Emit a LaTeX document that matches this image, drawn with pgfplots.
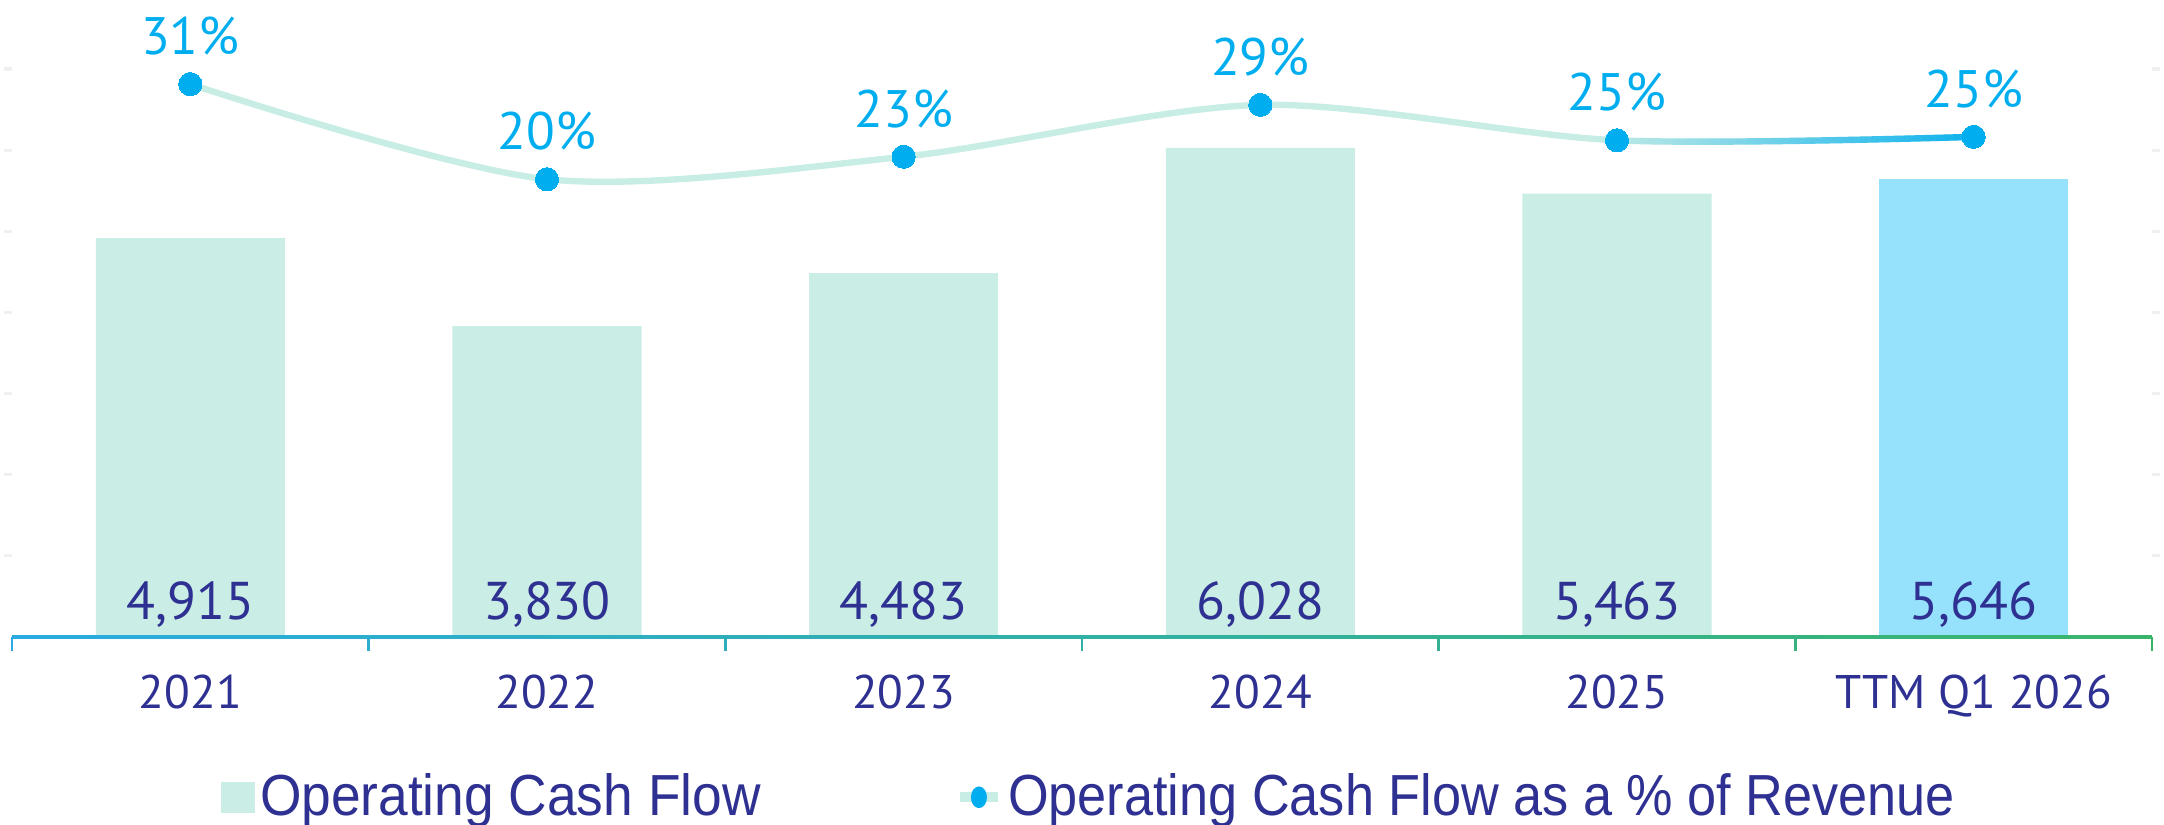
\documentclass[border=0pt]{standalone}
\usepackage{fontspec}
\setmainfont{PT Sans}
\newfontfamily\legfont[FakeStretch=0.92]{Liberation Sans}
\newfontfamily\legfontb[FakeStretch=0.902]{Liberation Sans}
\usepackage{pgfplots}
\usepackage{pgfplotstable}
\pgfplotsset{compat=1.18}
\usetikzlibrary{fadings}

\definecolor{navy}{RGB}{46,49,146}
\definecolor{pctcyan}{RGB}{0,174,239}
\definecolor{barmint}{RGB}{202,238,230}
\definecolor{barsky}{RGB}{150,226,252}
\definecolor{linemint}{RGB}{200,237,229}
\definecolor{axcyan}{RGB}{41,171,226}
\definecolor{axgreen}{RGB}{57,181,106}

\pgfplotstableread{
x ocf pct
0 4915 31.4
1 3830 20.4
2 4483 23.0
3 6028 29.0
4 5463 24.9
5 5646 25.3
}\ocfdata

\pgfplotsset{
  base/.style={
    scale only axis, width=535.5pt, height=159.4pt,
    xmin=-0.5, xmax=5.5, clip=false,
    axis line style={draw=none},
    /pgf/number format/assume math mode=true,
  }
}

\begin{document}%
% last segment of the ratio line turns cyan (fit fading maps -1..1 to the path box)
\begin{tikzfadingfrompicture}[name=lastseg]%
  \fill[transparent!100] (-1,-1) rectangle (0.6,1);
  \shade[left color=transparent!100,right color=transparent!0] (0.6,-1) rectangle (1,1);
  \fill[transparent!0] (1,-1) rectangle (1.2,1);
\end{tikzfadingfrompicture}%
\begin{tikzpicture}
\path[use as bounding box] (-3pt,-46.85pt) rectangle (538.5pt,159.4pt);

\begin{axis}[base, ymin=0, ymax=7850,
  xtick={0,...,5}, xticklabels={2021,2022,2023,2024,2025,TTM Q1 2026},
  x tick style={draw=none},
  xticklabel style={font=\fontsize{11.8}{14}\selectfont, text=navy, anchor=base, yshift=-15.9pt},
  ytick={1000,2000,...,7000}, yticklabels={},
  yticklabel style={inner sep=0pt},
  y tick style={draw=black!6, line width=0.8pt},
  tick align=outside, major tick length=2pt,
  legend columns=2,
  legend style={at={(0.0976,-0.2516)}, anchor=west, draw=none, fill=none,
    inner sep=0pt, outer sep=0pt, text=navy,
    nodes={inner xsep=0pt},
    font=\legfont\fontsize{14.5}{16}\selectfont,
    /tikz/every odd column/.append style={column sep=1.2pt},
    /tikz/every even column/.append style={column sep=48.5pt}},
]
\addplot[ybar, bar width=0.53, bar shift=0pt, fill=barmint, draw=none,
  restrict x to domain=-0.5:4.5,
  legend image code/.code={\fill[barmint] (0pt,-3.95pt) rectangle (8.6pt,3.95pt);}]
  table[x=x, y=ocf]{\ocfdata};
\addlegendentry{Operating Cash Flow}
\addplot[ybar, bar width=0.53, bar shift=0pt, fill=barsky, draw=none, forget plot,
  restrict x to domain=4.5:5.5]
  table[x=x, y=ocf]{\ocfdata};
% values written at the foot of each bar
\addplot[draw=none, mark=none, forget plot,
  point meta=\thisrow{ocf},
  nodes near coords={\pgfmathprintnumber[fixed, precision=0, 1000 sep={,}]{\pgfplotspointmeta}},
  every node near coord/.append style={anchor=base, yshift=4.5pt, text=navy,
    font=\fontsize{13.3}{16}\selectfont}]
  table[x=x, y expr=0]{\ocfdata};
\addlegendimage{legend image code/.code={
  \draw[linemint, line width=2.5pt] (0pt,0pt) -- (9.7pt,0pt);
  \fill[pctcyan] (4.85pt,0pt) ellipse [x radius=1.8pt, y radius=2.5pt];}}
\addlegendentry{\legfontb Operating Cash Flow as a \% of Revenue}

\shade[left color=axcyan, right color=axgreen]
  ([yshift=-0.35pt]rel axis cs:0,0) rectangle ([yshift=0.35pt]rel axis cs:1,0);
\pgfplotsinvokeforeach{-0.5,0.5,1.5,2.5,3.5,4.5,5.5}{
  \draw[line width=0.6pt, color=axgreen!\fpeval{round((#1+0.5)*100/6)}!axcyan]
    (axis cs:#1,0) -- ([yshift=-3.5pt]axis cs:#1,0);
}
\end{axis}

\begin{axis}[base, ymin=-32.55, ymax=41.13, hide x axis, hide y axis]
\addplot[smooth, linemint, line width=1.6pt, mark=none] table[x=x, y=pct]{\ocfdata};
\addplot[smooth, pctcyan, line width=1.6pt, mark=none, path fading=lastseg]
  table[x=x, y=pct]{\ocfdata};
\addplot[only marks, color=pctcyan, mark=*, mark size=2.9pt,
  mark options={fill=pctcyan, draw=pctcyan, line width=0pt},
  point meta=\thisrow{pct},
  nodes near coords={\pgfmathprintnumber[fixed, precision=0]{\pgfplotspointmeta}\%},
  every node near coord/.append style={anchor=base, yshift=7.4pt, text=pctcyan,
    font=\fontsize{13.2}{15}\selectfont}]
  table[x=x, y=pct]{\ocfdata};
\end{axis}
\end{tikzpicture}%
\end{document}
